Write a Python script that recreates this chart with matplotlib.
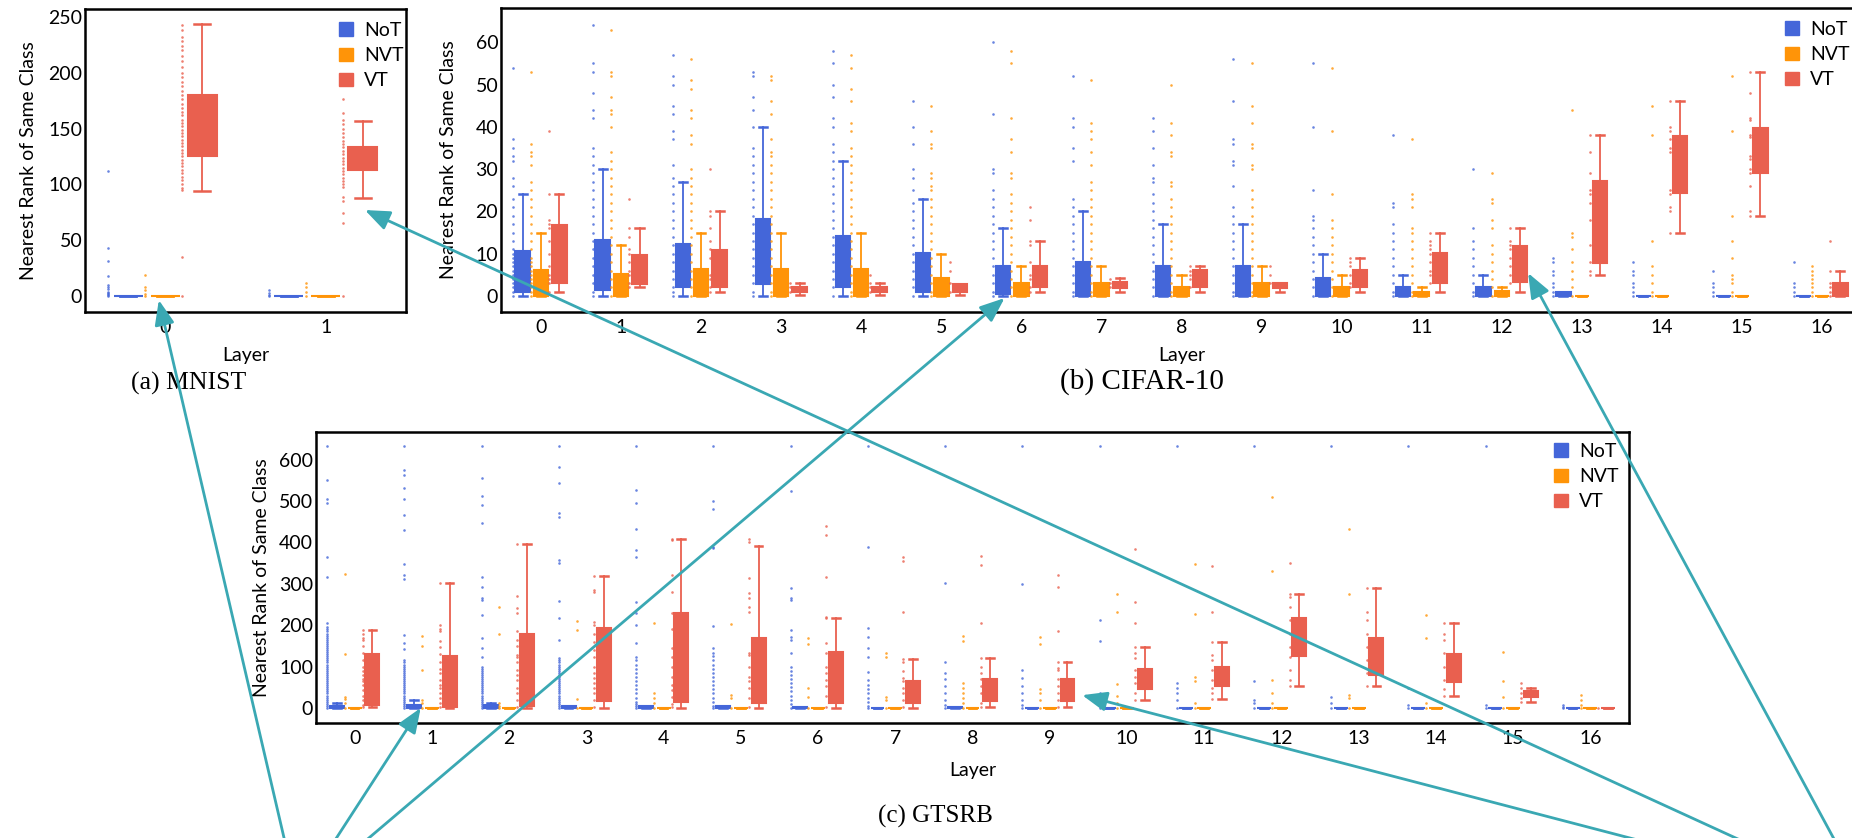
import matplotlib

matplotlib.use("Agg")
import matplotlib.pyplot as plt
from matplotlib.patches import ConnectionPatch, Patch

plt.rcParams["font.family"] = ["Lato", "DejaVu Sans"]

GROUPS = ["NoT", "NVT", "VT"]
COLORS = ["#4466D9", "#FF9408", "#E9604F"]

# ---- MNIST: one row per layer = [whisker low, q1, q3, whisker high]
MNIST_LAYERS = [0, 1]
MNIST_NOT = [[0, 0, 0, 0], [0, 0, 0, 0]]
MNIST_NVT = [[0, 0, 0, 0], [0, 0, 0, 0]]
MNIST_VT = [[94, 125, 180, 244], [88, 113, 133, 157]]
MNIST_NOT_PTS = [[112, 43, 31, 18, 10, 8, 6, 4, 3, 2, 1, 0], [5, 3, 1, 0]]
MNIST_NVT_PTS = [[19, 8, 5, 2, 0], [12, 8, 4, 0]]
MNIST_VT_PTS = [
    [243, 238, 232, 228, 224, 220, 215, 210, 205, 200, 196, 192, 188, 184, 180, 176, 172,
     168, 165, 162, 158, 155, 152, 149, 146, 143, 140, 137, 134, 131, 128, 125, 122, 119,
     116, 113, 110, 107, 104, 100, 97, 95, 35, 0],
    [176, 164, 158, 154, 150, 146, 142, 139, 136, 133, 130, 127, 124, 121, 118, 115, 112,
     109, 106, 103, 100, 98, 89, 85, 74, 65, 0],
]

# ---- CIFAR-10
CIFAR_LAYERS = list(range(17))
CIFAR_NOT = [[0, 1, 10.6, 24], [0, 1.4, 13.2, 30], [0, 2, 12.2, 27], [0, 2.9, 18.3, 40],
             [0, 2, 14.2, 32], [0, 0.9, 10.1, 23], [0, 0.5, 7.1, 16], [0, 0, 8.1, 20],
             [0, 0, 7.1, 17], [0, 0, 7.1, 17], [0, 0, 4.2, 10], [0, 0, 2.2, 5],
             [0, 0, 2.2, 5], [0, 0, 1, 1], [0, 0, 0, 0], [0, 0, 0, 0], [0, 0, 0, 0]]
CIFAR_NVT = [[0, 0, 6.1, 15], [0, 0, 5.1, 12], [0, 0, 6.3, 15], [0, 0, 6.3, 15],
             [0, 0, 6.3, 15], [0, 0, 4.2, 10], [0, 0, 3, 7], [0, 0, 3, 7],
             [0, 0, 2.2, 5], [0, 0, 3, 7], [0, 0, 2.2, 5], [0, 0, 1, 2.2],
             [0, 0, 1.2, 2.2], [0, 0, 0, 0], [0, 0, 0, 0], [0, 0, 0, 0], [0, 0, 0, 0]]
CIFAR_VT = [[1, 3, 16.7, 24], [2, 2.9, 9.7, 16], [1, 2, 10.8, 20], [0.3, 0.9, 2.2, 3.1],
            [0.3, 0.9, 2.2, 3.1], [0.3, 0.9, 2.8, 2.9], [1, 2, 7.1, 13], [1, 1.8, 3.2, 4.2],
            [1, 2, 6.1, 7.1], [1, 1.8, 3.1, 3.1], [1, 2, 6.1, 9], [1, 3, 10.1, 15],
            [1, 3.4, 11.7, 16], [5, 7.9, 27.2, 38], [15, 24.4, 37.8, 46], [19, 29, 39.8, 53],
            [0, 0, 3.1, 6]]
CIFAR_NOT_PTS = [
    [54, 37, 35, 33, 32, 28, 26, 23, 21, 19, 17, 15, 13, 11, 10, 9, 8, 7, 6, 5, 4, 3, 2, 1, 0],
    [64, 55, 53, 48, 44, 42, 35, 33, 31, 29, 27, 25, 23, 21, 19, 17, 15, 13, 11, 9, 7, 5, 3, 1, 0],
    [57, 52, 50, 45, 43, 39, 37, 31, 28, 26, 24, 22, 20, 18, 16, 14, 12, 10, 8, 6, 4, 2, 1, 0],
    [53, 52, 47, 44, 40, 35, 33, 31, 29, 27, 25, 23, 21, 19, 17, 15, 13, 11, 9, 7, 5, 3, 1, 0],
    [58, 55, 50, 47, 42, 40, 36, 34, 32, 30, 28, 26, 24, 22, 20, 18, 16, 14, 12, 10, 8, 6, 4, 2, 0],
    [46, 40, 36, 30, 28, 25, 22, 20, 18, 16, 14, 12, 10, 8, 6, 4, 2, 0],
    [60, 43, 30, 29, 25, 23, 21, 19, 17, 15, 13, 11, 9, 7, 5, 3, 1, 0],
    [52, 42, 40, 35, 32, 23, 21, 19, 17, 15, 13, 11, 9, 7, 5, 3, 1, 0],
    [42, 39, 35, 31, 28, 27, 24, 22, 20, 18, 16, 14, 12, 10, 8, 6, 4, 2, 0],
    [56, 46, 37, 36, 32, 31, 26, 21, 19, 17, 15, 13, 11, 9, 7, 5, 3, 1, 0],
    [55, 40, 25, 19, 18, 16, 14, 12, 10, 8, 6, 4, 2, 0],
    [38, 22, 21, 17, 15, 13, 11, 9, 7, 5, 3, 1, 0],
    [30, 16, 13, 11, 9, 7, 5, 3, 1, 0],
    [9, 8, 6, 5, 3, 2, 1, 0],
    [8, 6, 5, 3, 2, 1, 0],
    [6, 3, 2, 1, 0],
    [8, 3, 2, 1, 0],
]
CIFAR_NVT_PTS = [
    [53, 36, 34, 33, 31, 27, 25, 23, 21, 19, 17, 15, 13, 11, 9, 8, 7, 6, 5, 4, 3, 2, 1, 0],
    [63, 53, 52, 47, 44, 43, 40, 34, 32, 30, 28, 26, 24, 22, 20, 18, 16, 14, 12, 10, 8, 6, 4, 2, 0],
    [56, 51, 49, 44, 42, 38, 36, 30, 28, 26, 24, 22, 20, 18, 16, 14, 12, 10, 8, 6, 4, 2, 0],
    [52, 51, 46, 43, 37, 34, 33, 31, 29, 27, 25, 23, 21, 19, 17, 15, 13, 11, 9, 7, 5, 3, 1, 0],
    [57, 54, 49, 46, 41, 39, 35, 33, 31, 29, 27, 25, 23, 21, 19, 17, 15, 13, 11, 9, 7, 5, 3, 1, 0],
    [45, 39, 36, 35, 29, 28, 26, 25, 23, 21, 19, 17, 15, 13, 11, 9, 7, 5, 3, 1, 0],
    [58, 55, 42, 37, 34, 29, 28, 24, 22, 20, 18, 16, 14, 12, 10, 8, 6, 4, 2, 0],
    [51, 41, 39, 37, 34, 31, 27, 25, 23, 21, 19, 17, 15, 13, 11, 9, 7, 5, 3, 1, 0],
    [50, 41, 38, 34, 33, 27, 26, 23, 21, 19, 17, 15, 13, 11, 9, 7, 5, 3, 1, 0],
    [55, 45, 41, 36, 35, 31, 30, 25, 23, 21, 19, 17, 15, 13, 11, 9, 7, 5, 3, 1, 0],
    [54, 39, 24, 18, 16, 14, 12, 10, 8, 6, 4, 2, 0],
    [37, 24, 23, 21, 16, 15, 13, 11, 9, 7, 5, 3, 1, 0],
    [29, 23, 22, 18, 16, 12, 10, 8, 6, 4, 2, 0],
    [44, 15, 14, 11, 8, 6, 4, 2, 0],
    [45, 38, 13, 7, 5, 3, 1, 0],
    [52, 39, 19, 13, 9, 5, 4, 3, 1, 0],
    [7, 6, 5, 4, 3, 2, 1, 0],
]
CIFAR_VT_PTS = [
    [39, 24, 18, 17, 16, 13, 10, 7, 5, 4, 3, 1],
    [23, 16, 14, 11, 10, 8, 6, 5, 3, 2],
    [30, 20, 19, 16, 13, 11, 9, 5, 4, 2, 1],
    [3, 2, 1],
    [5, 3, 2, 1],
    [8, 6, 3, 1],
    [21, 18, 13, 12, 8, 5, 4, 2, 1],
    [4, 3, 2],
    [7, 6, 5, 4, 2],
    [7, 5, 3],
    [9, 8, 7, 5, 3, 2],
    [15, 13, 12, 11, 10, 8, 6, 5, 3],
    [16, 13, 12, 11, 9, 7, 5, 3],
    [38, 34, 29, 25, 24, 22, 18, 12, 8, 6, 5],
    [46, 40, 39, 37, 35, 34, 25, 24, 21, 20, 15],
    [53, 48, 42, 41.5, 38, 37.5, 33, 32.5, 30, 29, 26, 20, 19],
    [13, 6, 3, 2, 1, 0],
]

# ---- GTSRB
GTSRB_LAYERS = list(range(17))
GTSRB_NOT = [[0, 0, 5.6, 11], [0, 0, 7, 19], [0, 0, 7, 11], [0, 0, 5.6, 5.6],
             [0, 0, 5.6, 5.6], [0, 0, 5.6, 5.6], [0, 0, 3, 3], [0, 0, 1, 1],
             [0, 0, 3, 3], [0, 0, 1, 1], [0, 0, 0, 0], [0, 0, 0, 0], [0, 0, 0, 0],
             [0, 0, 0, 0], [0, 0, 0, 0], [0, 0, 0, 0], [0, 0, 0, 0]]
GTSRB_NVT = [[0, 0, 0, 0]] * 17
GTSRB_VT = [[3, 7, 130, 189], [0, 3, 126, 303], [0, 5.6, 180, 396], [0, 17, 193, 319],
            [0, 14, 229, 408], [0, 13, 168, 392], [0, 13, 135, 217], [0, 13, 64, 118],
            [3, 18, 69, 120], [3, 18, 69, 110], [19, 46, 94, 148], [22, 54, 98, 160],
            [54, 126, 217, 276], [52, 80, 170, 291], [29, 62, 130, 205], [14, 26, 40, 48],
            [0, 0, 0, 0]]
GTSRB_NOT_PTS = [
    [634, 551, 504, 495, 364, 317, 205, 195, 190, 185, 180, 175, 170, 165, 160, 155, 150, 145,
     140, 135, 130, 125, 120, 115, 110, 105, 100, 95, 90, 85, 80, 75, 70, 65, 60, 55, 50, 45,
     40, 35, 30, 25, 20, 15, 10, 5, 0],
    [634, 575, 563, 531, 504, 467, 430, 348, 321, 311, 176, 158, 142, 116, 110, 105, 100, 95,
     90, 85, 80, 75, 70, 65, 60, 55, 50, 45, 40, 35, 30, 25, 20, 15, 10, 5, 0],
    [634, 555, 512, 491, 446, 316, 293, 265, 261, 225, 168, 144, 124, 100, 95, 90, 85, 80, 75,
     70, 65, 60, 55, 50, 45, 40, 35, 30, 25, 20, 15, 10, 5, 0],
    [634, 582, 543, 471, 461, 358, 350, 259, 217, 164, 122, 116, 110, 105, 100, 95, 90, 85,
     80, 75, 70, 65, 60, 55, 50, 45, 40, 35, 30, 25, 20, 15, 10, 5, 0],
    [634, 527, 495, 432, 382, 366, 257, 230, 201, 156, 124, 115, 105, 95, 85, 75, 65, 55, 45,
     35, 25, 15, 10, 5, 0],
    [634, 500, 480, 390, 386, 197, 144, 132, 125, 115, 105, 95, 85, 75, 65, 55, 45, 35, 25,
     15, 5, 0],
    [634, 525, 289, 265, 261, 189, 172, 164, 134, 100, 90, 80, 70, 60, 50, 40, 30, 20, 10, 0],
    [634, 390, 194, 172, 144, 124, 88, 68, 55, 45, 35, 25, 15, 5, 0],
    [634, 301, 110, 84, 69, 52, 35, 19, 7, 0],
    [634, 300, 92, 72, 52, 35, 19, 7, 0],
    [634, 213, 162, 35, 23, 11, 0],
    [634, 60, 48, 35, 19, 0],
    [634, 64, 19, 11, 0],
    [634, 27, 11, 0],
    [634, 48, 7, 0],
    [634, 7, 0],
    [7, 3, 0],
]
GTSRB_NVT_PTS = [
    [323, 130, 27, 21, 11, 0],
    [174, 151, 93, 19, 11, 0],
    [243, 179, 11, 5, 0],
    [210, 189, 22, 0],
    [205, 35, 23, 11, 0],
    [202, 31, 23, 0],
    [168, 155, 48, 27, 0],
    [132, 124, 27, 19, 0],
    [175, 162, 60, 48, 35, 23, 11, 0],
    [172, 154, 45, 35, 19, 0],
    [276, 231, 58, 29, 11, 0],
    [347, 226, 76, 64, 11, 0],
    [509, 331, 68, 35, 11, 0],
    [432, 275, 31, 23, 0],
    [225, 168, 11, 0],
    [136, 65, 27, 0],
    [31, 19, 7, 0],
]
GTSRB_VT_PTS = [
    [189, 180, 168, 164, 150, 132, 115, 100, 90, 80, 70, 64, 55, 44, 30, 19, 8, 3],
    [303, 201, 190, 185, 162, 148, 130, 110, 95, 84, 68, 55, 48, 35, 23, 12, 3],
    [396, 271, 241, 229, 185, 164, 150, 128, 124, 110, 92, 80, 68, 48, 35, 19, 3],
    [319, 285, 281, 209, 201, 180, 160, 140, 124, 100, 84, 72, 60, 48, 35, 20, 3],
    [408, 406, 322, 281, 229, 190, 144, 124, 100, 76, 56, 44, 27, 10, 3],
    [408, 402, 313, 277, 265, 245, 233, 132, 128, 100, 76, 64, 48, 25, 3],
    [440, 418, 316, 221, 217, 156, 132, 100, 84, 68, 52, 30, 3],
    [366, 356, 233, 118, 112, 90, 72, 64, 48, 35, 20, 3],
    [367, 346, 206, 120, 100, 84, 70, 52, 35, 11, 3],
    [322, 293, 185, 110, 96, 92, 69, 52, 35, 19, 3],
    [384, 257, 206, 148, 132, 120, 92, 76, 60, 35, 19],
    [343, 233, 160, 128, 116, 92, 68, 48, 35, 22],
    [350, 276, 269, 245, 213, 180, 148, 124, 92, 68, 54],
    [291, 233, 213, 180, 148, 116, 84, 52],
    [205, 180, 164, 132, 100, 68, 45, 29],
    [60, 48, 35, 23, 14],
    [0],
]

# arrows: (panel, layer, value) they point at, and where they leave the bottom edge (px)
ARROW_TARGETS = [("mnist", -0.04, -3.6), ("gtsrb", 0.855, 0), ("cifar", 5.79, -0.5),
                 ("mnist", 1.244, 77), ("gtsrb", 9.42, 31), ("cifar", 12.33, 5.4)]
ARROW_STARTS = [286, 331, 359, 1754, 1662, 1838]

W, H = 1852, 838
fig = plt.figure(figsize=(W / 100, H / 100), dpi=100)


def rect(left, top, right, bottom):
    return [left / W, 1 - bottom / H, (right - left) / W, (bottom - top) / H]


def draw_panel(ax, layers, boxes, points, ylim, yticks, legend_xy, xpad):
    offsets = [-0.23, 0.0, 0.23]
    for color, off, rows, pts in zip(COLORS, offsets, boxes, points):
        stats = [dict(whislo=r[0], q1=r[1], med=r[1], q3=r[2], whishi=r[3], fliers=[]) for r in rows]
        pos = [l + off for l in layers]
        ax.bxp(stats, positions=pos, widths=0.18, capwidths=0.1, patch_artist=True,
               showfliers=False, manage_ticks=False,
               boxprops=dict(facecolor=color, edgecolor=color, linewidth=1.5),
               whiskerprops=dict(color=color, linewidth=1.3),
               capprops=dict(color=color, linewidth=1.8),
               medianprops=dict(color=color, linewidth=0))
        for l, vals in zip(layers, pts):
            ax.scatter([l + off - 0.125] * len(vals), vals, s=3.5, color=color,
                       alpha=0.8, linewidths=0, zorder=3)

    ax.set_xlim(-0.5, layers[-1] + 0.5)
    ax.set_ylim(*ylim)
    ax.set_xticks(layers)
    ax.set_yticks(yticks)
    ax.tick_params(length=0, labelsize=14)
    ax.tick_params(axis="x", pad=5)
    ax.tick_params(axis="y", pad=2)
    for sp in ax.spines.values():
        sp.set_linewidth(1.8)
        sp.set_color("black")
    ax.set_ylabel("Nearest Rank of Same Class", fontsize=14)
    ax.set_xlabel("Layer", fontsize=14, labelpad=xpad)

    handles = [Patch(facecolor=c, edgecolor=c, label=g) for g, c in zip(GROUPS, COLORS)]
    ax.legend(handles=handles, loc="upper left",
              bbox_to_anchor=(legend_xy[0] / W, 1 - legend_xy[1] / H),
              bbox_transform=fig.transFigure, frameon=False, fontsize=14,
              handlelength=0.7, handleheight=0.7, handletextpad=0.6,
              labelspacing=0.42, borderpad=0, borderaxespad=0)


ax_m = fig.add_axes(rect(85, 9, 406, 312))
draw_panel(ax_m, MNIST_LAYERS, [MNIST_NOT, MNIST_NVT, MNIST_VT],
           [MNIST_NOT_PTS, MNIST_NVT_PTS, MNIST_VT_PTS], (-14.3, 257),
           range(0, 251, 50), (339, 22), 8)
ax_m.yaxis.set_label_coords(-48 / 321, 0.5)

ax_c = fig.add_axes(rect(501, 8, 1862, 312))
draw_panel(ax_c, CIFAR_LAYERS, [CIFAR_NOT, CIFAR_NVT, CIFAR_VT],
           [CIFAR_NOT_PTS, CIFAR_NVT_PTS, CIFAR_VT_PTS], (-3.8, 68.1),
           range(0, 61, 10), (1785, 21), 8)
ax_c.yaxis.set_label_coords(-44 / 1361, 0.5)

ax_g = fig.add_axes(rect(316, 432, 1629, 723))
draw_panel(ax_g, GTSRB_LAYERS, [GTSRB_NOT, GTSRB_NVT, GTSRB_VT],
           [GTSRB_NOT_PTS, GTSRB_NVT_PTS, GTSRB_VT_PTS], (-36.3, 667),
           range(0, 601, 100), (1554, 443), 11)
ax_g.yaxis.set_label_coords(-46 / 1313, 0.5)

serif = ["Liberation Serif", "DejaVu Serif"]
fig.text(189 / W, 1 - 383 / H, "(a) MNIST", family=serif, fontsize=18.5, ha="center", va="center")
fig.text(1142 / W, 1 - 382 / H, "(b) CIFAR-10", family=serif, fontsize=21, ha="center", va="center")
fig.text(935 / W, 1 - 816 / H, "(c) GTSRB", family=serif, fontsize=18, ha="center", va="center")

panels = {"mnist": ax_m, "cifar": ax_c, "gtsrb": ax_g}
for (name, x, y), sx in zip(ARROW_TARGETS, ARROW_STARTS):
    arrow = ConnectionPatch(xyA=(sx / W, -0.01), coordsA=fig.transFigure,
                            xyB=(x, y), coordsB=panels[name].transData,
                            arrowstyle="-|>,head_length=0.75,head_width=0.3",
                            mutation_scale=20, color="#3AA8B3", linewidth=2, zorder=10)
    fig.add_artist(arrow)

fig.savefig("out.png", dpi=100)
